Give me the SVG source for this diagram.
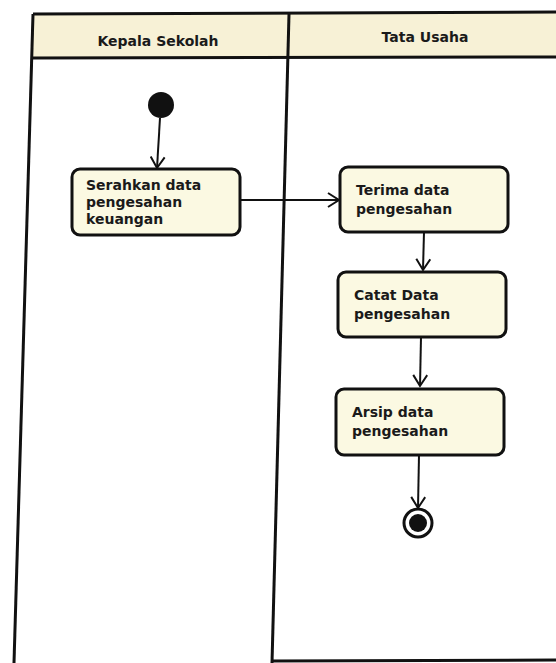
<svg xmlns="http://www.w3.org/2000/svg" width="556" height="663" viewBox="0 0 556 663">
<defs>
<marker id="arr" markerWidth="16" markerHeight="16" refX="12" refY="8" orient="auto" markerUnits="userSpaceOnUse">
<path d="M1,1 L12,8 L1,15" fill="none" stroke="#111" stroke-width="2"/>
</marker>
</defs>
<style>
.lane{fill:none;stroke:#111;stroke-width:3}
.hdr{fill:#f7f1d6}
.act{fill:#fbf9e2;stroke:#111;stroke-width:3}
.t{font-family:"DejaVu Sans",Verdana,sans-serif;font-weight:bold;font-size:14px;fill:#1a1a1a}
.c{stroke:#111;stroke-width:2;fill:none;marker-end:url(#arr)}
</style>
<rect width="556" height="663" fill="#ffffff"/>
<g id="lanes">
<polygon class="hdr" points="33,14 556,12 556,57 32,58"/>
<line class="lane" x1="33" y1="14" x2="556" y2="12"/>
<line class="lane" x1="32" y1="58" x2="556" y2="57"/>
<line class="lane" x1="33" y1="14" x2="14" y2="663"/>
<line class="lane" x1="289" y1="14" x2="272" y2="663"/>
<line class="lane" x1="272" y1="661" x2="556" y2="660"/>
<text class="t" x="158" y="46" text-anchor="middle">Kepala Sekolah</text>
<text class="t" x="425" y="42" text-anchor="middle">Tata Usaha</text>
</g>
<g id="connectors">
<line class="c" x1="160" y1="118" x2="157" y2="168"/>
<line class="c" x1="240" y1="200" x2="339" y2="200"/>
<line class="c" x1="424" y1="232" x2="423" y2="270"/>
<line class="c" x1="421" y1="337" x2="420" y2="386"/>
<line class="c" x1="419" y1="455" x2="418" y2="508"/>
</g>
<g id="start"><circle cx="161" cy="105" r="13" fill="#111"/></g>
<g id="serahkan">
<rect class="act" x="72" y="169" width="168" height="66" rx="8"/>
<text class="t" x="86" y="190">Serahkan data</text>
<text class="t" x="86" y="207">pengesahan</text>
<text class="t" x="86" y="224">keuangan</text>
</g>
<g id="terima">
<rect class="act" x="340" y="167" width="168" height="65" rx="8"/>
<text class="t" x="356" y="195">Terima data</text>
<text class="t" x="356" y="214">pengesahan</text>
</g>
<g id="catat">
<rect class="act" x="338" y="272" width="168" height="65" rx="8"/>
<text class="t" x="354" y="300">Catat Data</text>
<text class="t" x="354" y="319">pengesahan</text>
</g>
<g id="arsip">
<rect class="act" x="336" y="389" width="168" height="66" rx="8"/>
<text class="t" x="352" y="417">Arsip data</text>
<text class="t" x="352" y="436">pengesahan</text>
</g>
<g id="end">
<circle cx="418" cy="523" r="14" fill="none" stroke="#111" stroke-width="3"/>
<circle cx="418" cy="523" r="9" fill="#111"/>
</g>
</svg>
